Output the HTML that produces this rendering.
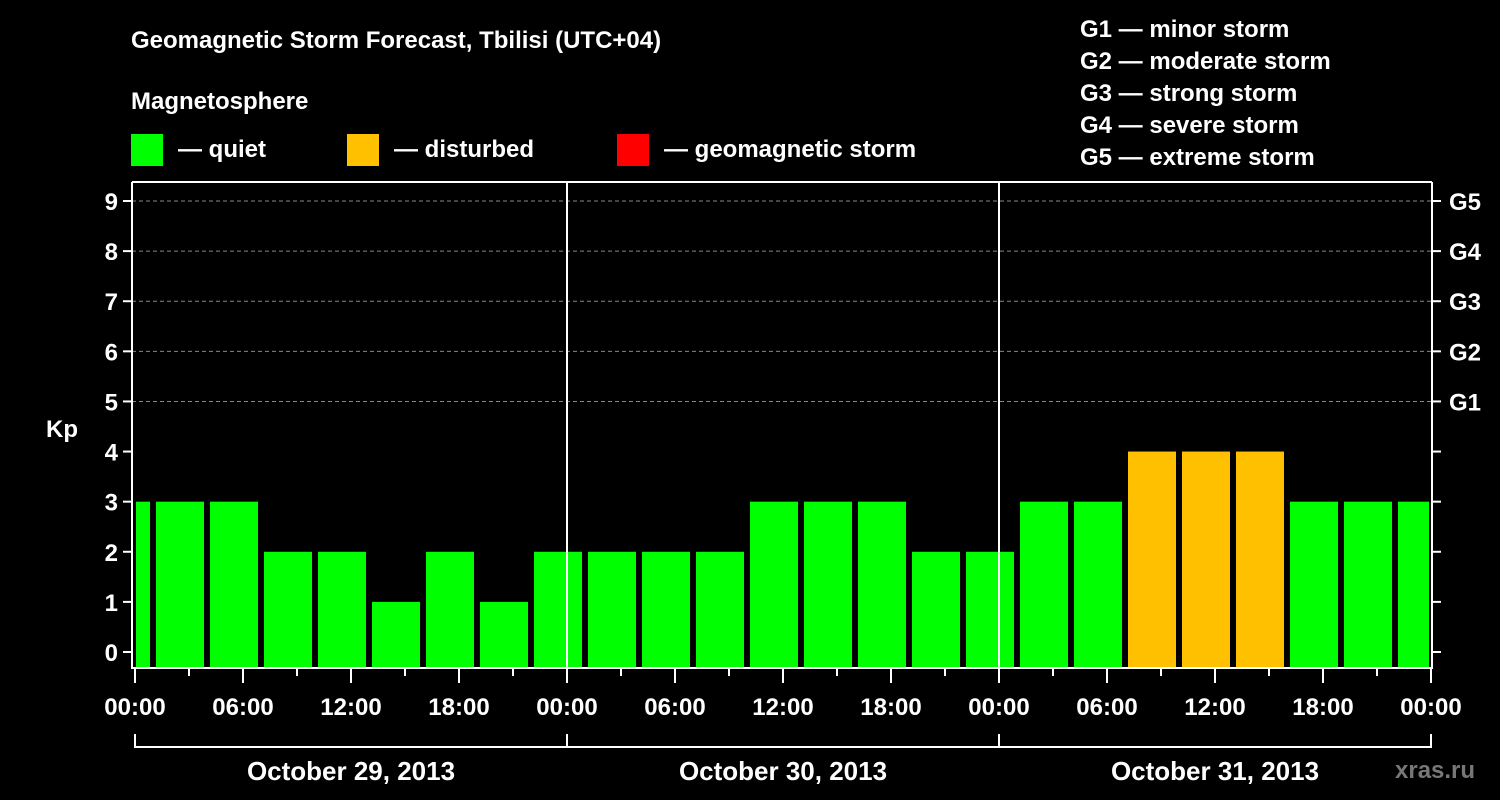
<!DOCTYPE html>
<html><head><meta charset="utf-8"><style>
body{margin:0;background:#000;}
svg{display:block;font-family:"Liberation Sans",Arial,sans-serif;font-weight:bold;}
</style></head><body>
<svg id="c" width="1500" height="800">
<rect width="1500" height="800" fill="#000"/>
<text x="131" y="48" fill="#fff" font-size="24">Geomagnetic Storm Forecast, Tbilisi (UTC+04)</text>
<text x="131" y="109" fill="#fff" font-size="24">Magnetosphere</text>
<g><rect x="131" y="134" width="32" height="32" fill="#00ff00"/><text x="178" y="157" fill="#fff" font-size="24">— quiet</text></g>
<g><rect x="347" y="134" width="32" height="32" fill="#ffc000"/><text x="394" y="157" fill="#fff" font-size="24">— disturbed</text></g>
<g><rect x="617" y="134" width="32" height="32" fill="#ff0000"/><text x="664" y="157" fill="#fff" font-size="24">— geomagnetic storm</text></g>
<g fill="#fff" font-size="24">
<text x="1080" y="37">G1 — minor storm</text>
<text x="1080" y="69">G2 — moderate storm</text>
<text x="1080" y="101">G3 — strong storm</text>
<text x="1080" y="133">G4 — severe storm</text>
<text x="1080" y="165">G5 — extreme storm</text>
</g>
<text x="62" y="437" fill="#fff" font-size="24" text-anchor="middle">Kp</text>
<text x="1395" y="778" fill="#777" font-size="24">xras.ru</text>
<g id="plot"></g>
</svg>
<script>
const kpValues=[3, 3,3,2,2,1,2,1,2, 2,2,2,3,3,3,2,2, 3,3,4,4,4,3,3,3];
const barHours=[-0.5,2.5,5.5,8.5,11.5,14.5,17.5,20.5,23.5,26.5,29.5,32.5,35.5,38.5,41.5,44.5,47.5,50.5,53.5,56.5,59.5,62.5,65.5,68.5,71.5];
const xTickLabels=["00:00","06:00","12:00","18:00","00:00","06:00","12:00","18:00","00:00","06:00","12:00","18:00","00:00"];
const dayLabels=["October 29, 2013","October 30, 2013","October 31, 2013"];
const yTicks=[0,1,2,3,4,5,6,7,8,9];
const gLabels=["G1","G2","G3","G4","G5"];
const NS="http://www.w3.org/2000/svg";
const L=132,R=1432,T=182,B=668,X0=135,X1=1431;
const x=h=>X0+h*(X1-X0)/72;
const y=v=>652-v*(652-201)/9;
const g=document.getElementById('plot');
function mk(t,a,p){const e=document.createElementNS(NS,t);for(const k in a)e.setAttribute(k,a[k]);(p||g).appendChild(e);return e;}
// grid
yTicks.forEach(v=>{if(v>=5){const l=mk('line',{x1:L,x2:R,y1:y(v),y2:y(v),stroke:'#888','stroke-dasharray':'4,3','stroke-width':1});

}});
// bars
barHours.forEach((h,i)=>{const v=kpValues[i];let a=x(h)-24,b=x(h)+24;a=Math.max(a,L+4);b=Math.min(b,R-3);
const c=v>=5?'#ff0000':(v>=4?'#ffc000':'#00ff00');
const r=mk('rect',{x:a,y:y(v),width:b-a,height:B-1-y(v),fill:c});

});
// frame
mk('line',{x1:L,x2:L,y1:T,y2:B,stroke:'#fff','stroke-width':2});
mk('line',{x1:R,x2:R,y1:T,y2:B,stroke:'#fff','stroke-width':2});
mk('line',{x1:L,x2:R,y1:T,y2:T,stroke:'#fff','stroke-width':2});
mk('line',{x1:L-1,x2:R+1,y1:B,y2:B,stroke:'#fff','stroke-width':2});
[24,48].forEach(h=>mk('line',{x1:x(h),x2:x(h),y1:T,y2:B,stroke:'#fff','stroke-width':2}));
// y ticks
yTicks.forEach(v=>{mk('line',{x1:L-9,x2:L,y1:y(v),y2:y(v),stroke:'#fff','stroke-width':2});
mk('line',{x1:R,x2:R+9,y1:y(v),y2:y(v),stroke:'#fff','stroke-width':2});
const t=mk('text',{x:L-14,y:y(v)+9,fill:'#fff','font-size':24,'text-anchor':'end'});t.textContent=v;

});
gLabels.forEach((s,i)=>{const t=mk('text',{x:1449,y:y(i+5)+9,fill:'#fff','font-size':24});t.textContent=s;

});
// x ticks
for(let h=0;h<=72;h+=3){mk('line',{x1:x(h),x2:x(h),y1:B,y2:B+(h%6==0?15:8),stroke:'#fff','stroke-width':2});}
xTickLabels.forEach((s,i)=>{const t=mk('text',{x:x(i*6),y:715,fill:'#fff','font-size':24,'text-anchor':'middle'});t.textContent=s;

});
// day bracket
mk('line',{x1:X0,x2:X1,y1:747,y2:747,stroke:'#fff','stroke-width':2});
[0,24,48,72].forEach(h=>mk('line',{x1:x(h),x2:x(h),y1:734,y2:748,stroke:'#fff','stroke-width':2}));
dayLabels.forEach((s,i)=>{const t=mk('text',{x:x(i*24+12),y:780,fill:'#fff','font-size':26,'text-anchor':'middle'});t.textContent=s;

});
</script>
</body></html>
